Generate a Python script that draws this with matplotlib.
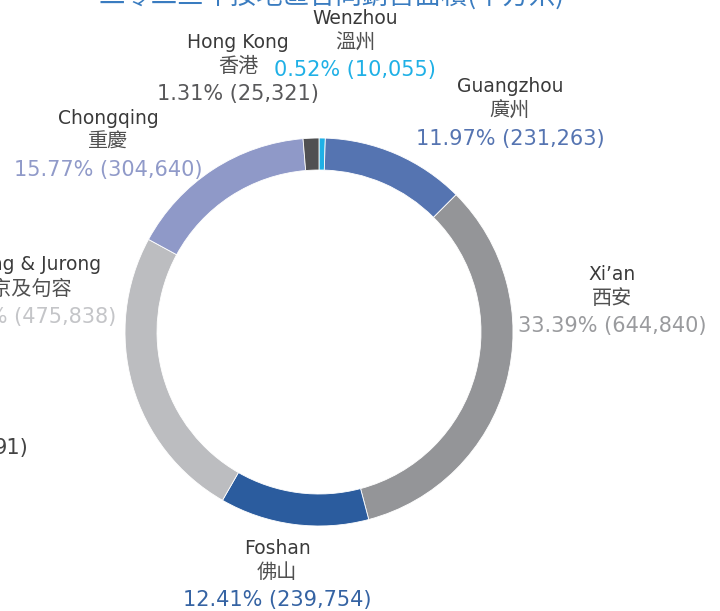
"""Donut chart: contracted sales GFA by region (sq.m), 2023."""
import matplotlib

matplotlib.use("Agg")
import matplotlib.pyplot as plt  # noqa: E402

plt.rcParams["font.family"] = ["DejaVu Sans", "Noto Sans CJK TC"]

W, H = 720, 611

TITLE = "二零二三年按地區合同銷售面積(平方米)"

# clockwise from 12 o'clock
names_en = ["Wenzhou", "Guangzhou", "Xi’an", "Foshan", "Nanjing & Jurong", "Chongqing", "Hong Kong"]
names_zh = ["溫州", "廣州", "西安", "佛山", "南京及句容", "重慶", "香港"]
areas = [10055, 231263, 644840, 239754, 475838, 304640, 25321]
pct_labels = ["0.52%", "11.97%", "33.39%", "12.41%", "24.63%", "15.77%", "1.31%"]
seg_colors = ["#1fb0e6", "#5574b1", "#949598", "#2b5c9e", "#bcbdc0", "#8f99c8", "#505052"]
pct_colors = ["#1fb0e6", "#5574b1", "#9a9b9e", "#3563a3", "#c4c5c8", "#909ac9", "#58585a"]

# label anchor (centre x, top line y) in pixels, y measured from top
label_pos = [(355, 18), (510, 87), (612, 274), (277, 548), (22, 265), (108, 118), (238, 42)]

_NAME = "#3a3a3a"

fig = plt.figure(figsize=(W / 100, H / 100), dpi=100)
ax = fig.add_axes([0, 0, 1, 1])

cx, cy, r = 319, H - 332, 194
ax.pie(areas, colors=seg_colors, startangle=90, counterclock=False,
       center=(cx, cy), radius=r, frame=True,
       wedgeprops=dict(width=32, edgecolor="white", linewidth=0.6))
ax.set_xlim(0, W)
ax.set_ylim(0, H)
ax.set_aspect("equal")
ax.axis("off")

for i, (x, y) in enumerate(label_pos):
    ax.text(x, H - y, names_en[i], ha="center", va="center", fontsize=13.5, color=_NAME)
    ax.text(x, H - y - 24, names_zh[i], ha="center", va="center", fontsize=14.5,
            color="#505050", family=["Noto Sans CJK TC"])
    ax.text(x, H - y - 52, f"{pct_labels[i]} ({areas[i]:,})", ha="center", va="center",
            fontsize=15, color=pct_colors[i])

# cropped label at left edge
ax.text(28, H - 448, "91)", ha="right", va="center", fontsize=15, color="#444444")

ax.text(332, H + 4, TITLE, ha="center", va="center", fontsize=19, color="#3a7cc0",
        family=["Noto Sans CJK TC"])

fig.savefig("out.png", dpi=100, facecolor="white")
